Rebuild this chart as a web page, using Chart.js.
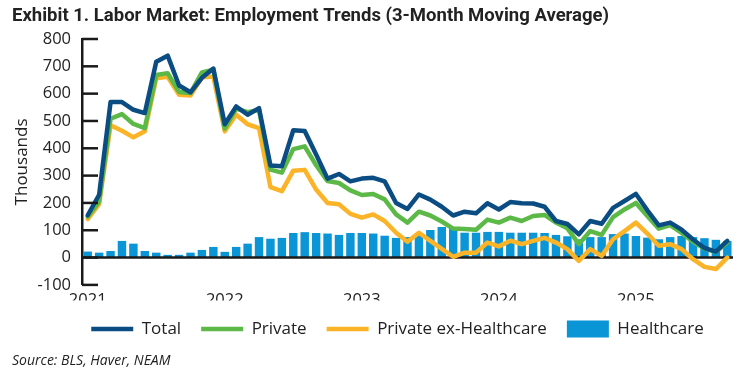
<!DOCTYPE html>
<html>
<head>
<meta charset="utf-8">
<script src="https://cdn.jsdelivr.net/npm/chart.js@4.4.1/dist/chart.umd.min.js"></script>
<style>
  html, body { margin: 0; padding: 0; background: #fff; }
</style>
</head>
<body>
<canvas id="laborChart" width="740" height="372"></canvas>
<script>
// Meses (Jan 2021 - Set 2025)
const months = [
  '2021-01','2021-02','2021-03','2021-04','2021-05','2021-06','2021-07','2021-08','2021-09','2021-10','2021-11','2021-12',
  '2022-01','2022-02','2022-03','2022-04','2022-05','2022-06','2022-07','2022-08','2022-09','2022-10','2022-11','2022-12',
  '2023-01','2023-02','2023-03','2023-04','2023-05','2023-06','2023-07','2023-08','2023-09','2023-10','2023-11','2023-12',
  '2024-01','2024-02','2024-03','2024-04','2024-05','2024-06','2024-07','2024-08','2024-09','2024-10','2024-11','2024-12',
  '2025-01','2025-02','2025-03','2025-04','2025-05','2025-06','2025-07','2025-08','2025-09'
];

// Valores em milhares (media movel de 3 meses)
const total = [
  155, 230, 569, 569, 541, 529, 717, 739, 630, 605, 658, 692,
  488, 553, 523, 547, 337, 334, 466, 463, 377, 289, 306, 279,
  289, 292, 279, 200, 178, 231, 212, 186, 154, 168, 162, 199,
  176, 203, 199, 198, 186, 134, 123, 85, 134, 124, 182, 207,
  233, 173, 118, 128, 102, 66, 35, 22, 61
];
const privateJobs = [
  150, 205, 508, 525, 489, 474, 668, 675, 606, 602, 678, 688,
  472, 545, 532, 540, 322, 311, 397, 407, 338, 280, 273, 246,
  229, 233, 213, 158, 128, 168, 154, 132, 106, 105, 102, 139,
  128, 146, 134, 152, 156, 128, 107, 49, 97, 83, 148, 176,
  200, 152, 106, 119, 90, 58, 33, 21, 55
];
const privateExHealth = [
  141, 196, 484, 464, 440, 462, 656, 662, 596, 593, 660, 663,
  462, 523, 488, 474, 258, 243, 318, 321, 249, 200, 195, 160,
  146, 158, 134, 91, 58, 91, 61, 32, 3, 18, 18, 55,
  41, 62, 49, 61, 72, 55, 31, -12, 31, 6, 67, 97,
  128, 88, 43, 49, 31, -6, -34, -42, 0
];
const healthcare = [
  22, 18, 24, 61, 51, 24, 18, 10, 10, 18, 28, 39,
  21, 39, 51, 75, 69, 72, 90, 93, 90, 88, 83, 90,
  90, 88, 80, 72, 75, 85, 101, 112, 107, 91, 91, 94,
  94, 91, 91, 91, 90, 83, 78, 67, 75, 75, 86, 88,
  79, 73, 67, 75, 79, 75, 71, 65, 61
];

Chart.defaults.font.family = "'Open Sans', sans-serif";
Chart.defaults.color = '#222';

// linha do zero e marcas do eixo y para dentro
const axisMarks = {
  id: 'axisMarks',
  afterDatasetDraw(chart, args) {
    if (args.index !== 3) return;
    const { ctx, chartArea, scales } = chart;
    const y0 = scales.y.getPixelForValue(0);
    ctx.save();
    ctx.strokeStyle = '#1a1a1a';
    ctx.lineWidth = 2.5;
    ctx.beginPath();
    ctx.moveTo(chartArea.left, y0);
    ctx.lineTo(chartArea.right, y0);
    ctx.stroke();
    ctx.restore();
  },
  afterDraw(chart) {
    const { ctx, chartArea, scales } = chart;
    ctx.save();
    ctx.strokeStyle = '#1a1a1a';
    ctx.lineWidth = 2.5;
    scales.y.ticks.forEach(t => {
      const py = scales.y.getPixelForValue(t.value);
      ctx.beginPath();
      ctx.moveTo(chartArea.left, py);
      ctx.lineTo(chartArea.left + 16, py);
      ctx.stroke();
    });
    ctx.restore();
  }
};

// legenda um pouco deslocada para a direita
const legendShift = {
  id: 'legendShift',
  afterLayout(chart) {
    chart.legend.left += 25;
    chart.legend.right += 25;
  }
};

const ctx = document.getElementById('laborChart').getContext('2d');
new Chart(ctx, {
  type: 'bar',
  data: {
    labels: months,
    datasets: [
      { type: 'line', label: 'Total', data: total, borderColor: '#0b4d83', backgroundColor: '#0b4d83',
        borderWidth: 4.5, pointRadius: 0, tension: 0, borderJoinStyle: 'round', borderCapStyle: 'round' },
      { type: 'line', label: 'Private', data: privateJobs, borderColor: '#5db947', backgroundColor: '#5db947',
        borderWidth: 4.5, pointRadius: 0, tension: 0, borderJoinStyle: 'round', borderCapStyle: 'round' },
      { type: 'line', label: 'Private ex-Healthcare', data: privateExHealth, borderColor: '#fbb328', backgroundColor: '#fbb328',
        borderWidth: 4.5, pointRadius: 0, tension: 0, borderJoinStyle: 'round', borderCapStyle: 'round' },
      { type: 'bar', label: 'Healthcare', data: healthcare, backgroundColor: '#0a95d6', borderWidth: 0,
        barPercentage: 0.74, categoryPercentage: 1 }
    ]
  },
  options: {
    responsive: false,
    animation: false,
    layout: { padding: { left: 12, right: 7, top: 0, bottom: 0 } },
    scales: {
      x: {
        grid: { display: false, drawTicks: false },
        border: { display: false },
        ticks: {
          autoSkip: false, maxRotation: 0, minRotation: 0, padding: 5,
          font: { size: 16.5 },
          callback: (v, i) => months[i].endsWith('-01') ? months[i].slice(0, 4) : ''
        },
        afterFit(scale) { scale.height = 15.5; }
      },
      y: {
        min: -100, max: 800,
        grid: { display: false, drawTicks: false },
        border: { display: true, color: '#1a1a1a', width: 2.5 },
        ticks: { stepSize: 100, padding: 11, font: { size: 16.5 } },
        title: { display: true, text: 'Thousands', font: { size: 17 }, padding: { top: 0, bottom: 0 } },
        afterFit(scale) { scale.width = 70; }
      }
    },
    plugins: {
      title: {
        display: true, align: 'start',
        text: 'Exhibit 1. Labor Market: Employment Trends (3-Month Moving Average)',
        font: { family: 'Roboto', weight: 'bold', size: 18.5 }, color: '#222',
        padding: { top: 5, bottom: 11.8 }
      },
      subtitle: {
        display: true, position: 'bottom', align: 'start',
        text: 'Source: BLS, Haver, NEAM',
        font: { size: 14, style: 'italic' }, color: '#222',
        padding: { top: 5, bottom: 2.8 }
      },
      legend: {
        position: 'bottom',
        labels: {
          usePointStyle: true, pointStyleWidth: 42, boxHeight: 17, padding: 20,
          font: { size: 17 }, color: '#222',
          generateLabels(chart) {
            const items = Chart.defaults.plugins.legend.labels.generateLabels(chart);
            items.forEach((it, i) => { it.pointStyle = i === 3 ? 'rect' : 'line'; });
            return items;
          }
        }
      },
      tooltip: { enabled: false }
    }
  },
  plugins: [axisMarks, legendShift]
});
</script>
</body>
</html>
